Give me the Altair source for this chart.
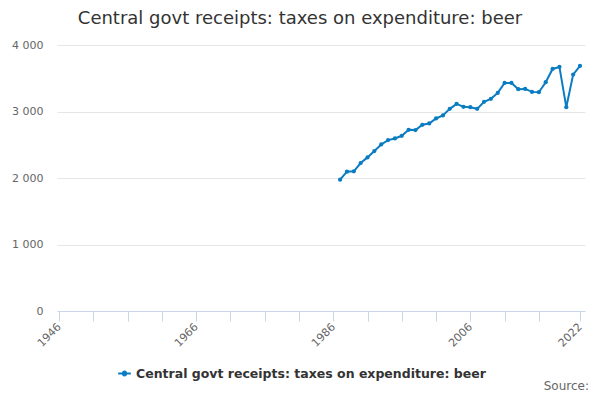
import altair as alt
import pandas as pd

years = list(range(1987, 2023))
values = [1975, 2095, 2100, 2225, 2310, 2405, 2505, 2570, 2595, 2635,
          2725, 2720, 2800, 2820, 2895, 2940, 3040, 3115, 3070, 3065,
          3040, 3145, 3190, 3280, 3430, 3430, 3335, 3340, 3295, 3290,
          3440, 3640, 3670, 3065, 3555, 3685]
series_name = "Central govt receipts: taxes on expenditure: beer"
x_ticks = [1946, 1951, 1956, 1961, 1966, 1971, 1976, 1981, 1986, 1991,
           1996, 2001, 2006, 2011, 2016, 2022]
x_labels = [1946, 1966, 1986, 2006, 2022]
y_ticks = [0, 1000, 2000, 3000, 4000]

df = pd.DataFrame({"year": years, "value": values, "series": [series_name] * len(years)})

COLOR = "#0b7cc2"
FONT = "DejaVu Sans"

label_test = " || ".join(f"datum.value == {v}" for v in x_labels)

base = alt.Chart(df)

line = base.mark_line(color=COLOR, strokeWidth=2, point=alt.OverlayMarkDef(filled=True, size=18, color=COLOR)).encode(
    x=alt.X("year:Q",
            scale=alt.Scale(domain=[1945.7, 2022.73], nice=False, zero=False),
            axis=alt.Axis(values=x_ticks, title=None, labelAngle=-45, labelAlign="right",
                          labelBaseline="middle", labelColor="#666666", labelFontSize=11,
                          labelFont=FONT, labelExpr=f"({label_test}) ? format(datum.value, 'd') : ''",
                          domainColor="#ccd6eb", tickColor="#ccd6eb", tickSize=10, grid=False,
                          labelPadding=4, labelOverlap=False, labelBound=False, labelFlush=False)),
    y=alt.Y("value:Q",
            scale=alt.Scale(domain=[0, 4000], nice=False),
            axis=alt.Axis(values=y_ticks, title=None, labelColor="#666666", labelFontSize=11,
                          labelFont=FONT, domain=False, ticks=False, gridColor="#e6e6e6",
                          labelPadding=14,
                          labelExpr="replace(format(datum.value, ','), ',', ' ')")),
    color=alt.Color("series:N", scale=alt.Scale(range=[COLOR]),
                    legend=alt.Legend(title=None, orient="none", legendX=60, legendY=321,
                                      labelFont=FONT, labelFontSize=12.5, labelFontWeight="bold",
                                      labelColor="#333333", labelLimit=0,
                                      symbolType="M-1,0H1M-0.3,0A0.3,0.3 0 1 1 0.3,0A0.3,0.3 0 1 1 -0.3,0",
                                      symbolStrokeWidth=2, symbolSize=160, symbolStrokeColor=COLOR,
                                      symbolFillColor=COLOR)),
)

source = alt.Chart(pd.DataFrame({"t": ["Source:"]})).mark_text(
    align="right", baseline="middle", font=FONT, fontSize=12, color="#666666"
).encode(x=alt.value(532), y=alt.value(341), text="t:N")

chart = alt.layer(line, source).properties(
    width=528, height=266,
    title=alt.TitleParams(series_name, font=FONT, fontSize=18, fontWeight="normal",
                          color="#333333", anchor="middle", dx=-21, offset=11),
    padding={"left": 49, "top": 37, "right": 7, "bottom": 81},
    autosize=alt.AutoSizeParams(type="none"),
).configure_view(stroke=None)

chart.save("out.html", embed_options={"renderer": "svg", "actions": False})
